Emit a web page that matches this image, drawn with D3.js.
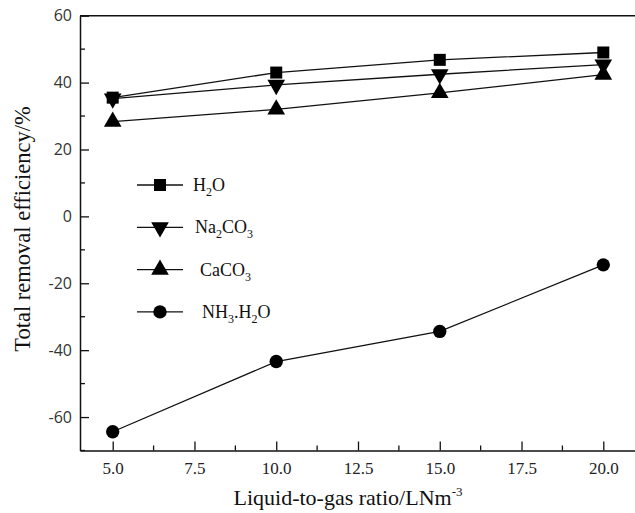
<!DOCTYPE html>
<html><head><meta charset="utf-8">
<script src="https://cdn.jsdelivr.net/npm/d3@7"></script>
<style>body{margin:0;background:#fff}svg{display:block}</style>
</head><body>
<svg id="c" width="635" height="513"></svg>
<script>
const ratios = [5, 10, 15, 20];
const h2o = [35.5, 43, 46.8, 49];
const na2co3 = [35.2, 39.3, 42.5, 45.4];
const caco3 = [28.3, 32, 36.9, 42.4];
const nh3h2o = [-64.4, -43.4, -34.4, -14.5];
const xTicks = [5, 7.5, 10, 12.5, 15, 17.5, 20];
const yTicks = [60, 40, 20, 0, -20, -40, -60];

const series = [
  {name: [["H",0],["2",1],["O",0]], values: h2o, sym: "square", lx: 193},
  {name: [["Na",0],["2",1],["CO",0],["3",1]], values: na2co3, sym: "down", lx: 195},
  {name: [["CaCO",0],["3",1]], values: caco3, sym: "up", lx: 200},
  {name: [["NH",0],["3",1],[".H",0],["2",1],["O",0]], values: nh3h2o, sym: "circle", lx: 202}
];

const svg = d3.select("#c");
const L = 80, R = 636, T = 15.7, B = 450.5;
const x = d3.scaleLinear().domain([4, 21]).range([L, R]);
const y = d3.scaleLinear().domain([-70, 60]).range([B, T]);
const ink = "#111";

function symPath(s) {
  if (s === "square") return d3.symbol().type(d3.symbolSquare).size(144)();
  if (s === "circle") return d3.symbol().type(d3.symbolCircle).size(140)();
  return d3.symbol().type(d3.symbolTriangle).size(135)();
}
function drawSym(g, s, cx, cy) {
  const p = g.append("path").attr("d", symPath(s)).attr("fill", "#000");
  let tr = `translate(${cx},${cy})`;
  if (s === "down") tr += " rotate(180)";
  p.attr("transform", tr);
}

// lines
const line = d3.line().x((d, i) => x(ratios[i])).y(d => y(d));
series.forEach(s => {
  svg.append("path").attr("d", line(s.values)).attr("fill", "none")
    .attr("stroke", ink).attr("stroke-width", 1.3);
});
series.forEach(s => {
  s.values.forEach((v, i) => drawSym(svg, s.sym, x(ratios[i]), y(v)));
});

// axes
const gx = svg.append("g").attr("transform", `translate(0,${B})`)
  .call(d3.axisBottom(x).tickValues(xTicks).tickSizeInner(-9).tickSizeOuter(0).tickFormat(d3.format(".1f")).tickPadding(11));
gx.selectAll("text").attr("font-family", "Liberation Serif").attr("font-size", 17).attr("fill", "#222");
const xMinor = d3.range(6.25, 21, 2.5);
svg.append("g").selectAll("line").data(xMinor).join("line")
  .attr("x1", d => x(d)).attr("x2", d => x(d)).attr("y1", B).attr("y2", B - 5)
  .attr("stroke", ink).attr("stroke-width", 1.3);

const gy = svg.append("g").attr("transform", `translate(${L},0)`)
  .call(d3.axisLeft(y).tickValues(yTicks).tickSizeInner(-9).tickSizeOuter(0).tickPadding(8)
    .tickFormat(d => String(d)));
gy.selectAll("text").attr("font-family", "Open Sans").attr("font-size", 16).attr("fill", "#333");
const yMinor = d3.range(-70, 60, 20);
svg.append("g").selectAll("line").data(yMinor).join("line")
  .attr("x1", L).attr("x2", L + 5).attr("y1", d => y(d)).attr("y2", d => y(d))
  .attr("stroke", ink).attr("stroke-width", 1.3);
[gx, gy].forEach(g => {
  g.select(".domain").attr("stroke", ink).attr("stroke-width", 1.5);
  g.selectAll(".tick line").attr("stroke", ink).attr("stroke-width", 1.3);
});
// top border and right border
svg.append("line").attr("x1", L).attr("x2", R).attr("y1", T).attr("y2", T).attr("stroke", ink).attr("stroke-width", 1.5);
svg.append("line").attr("x1", R).attr("x2", R).attr("y1", T).attr("y2", B).attr("stroke", ink).attr("stroke-width", 1.5);

// legend
const ly0 = 185, lstep = 42.3;
series.forEach((s, i) => {
  const cy = ly0 + i * lstep;
  svg.append("line").attr("x1", 137).attr("x2", 183).attr("y1", cy).attr("y2", cy)
    .attr("stroke", ink).attr("stroke-width", 1.3);
  drawSym(svg, s.sym, 160, cy);
  const t = svg.append("text").attr("x", s.lx).attr("y", cy + 6)
    .attr("font-family", "Liberation Serif").attr("font-size", 18).attr("fill", "#111");
  let sub = false;
  s.name.forEach(([txt, isSub]) => {
    const ts = t.append("tspan").text(txt);
    if (isSub && !sub) { ts.attr("font-size", 12).attr("dy", 5); sub = true; }
    else if (!isSub && sub) { ts.attr("dy", -5); sub = false; }
    else if (isSub) ts.attr("font-size", 12);
  });
});

// axis titles
const xt = svg.append("text").attr("x", 348).attr("y", 505).attr("text-anchor", "middle")
  .attr("font-family", "Liberation Serif").attr("font-size", 22).attr("fill", "#111");
xt.append("tspan").text("Liquid-to-gas ratio/LNm");
xt.append("tspan").text("-3").attr("font-size", 13).attr("dy", -9);

svg.append("text").attr("transform", "translate(30,229) rotate(-90)").attr("text-anchor", "middle")
  .attr("font-family", "Liberation Serif").attr("font-size", 22.5).attr("fill", "#111")
  .text("Total removal efficiency/%");
</script>
</body></html>
